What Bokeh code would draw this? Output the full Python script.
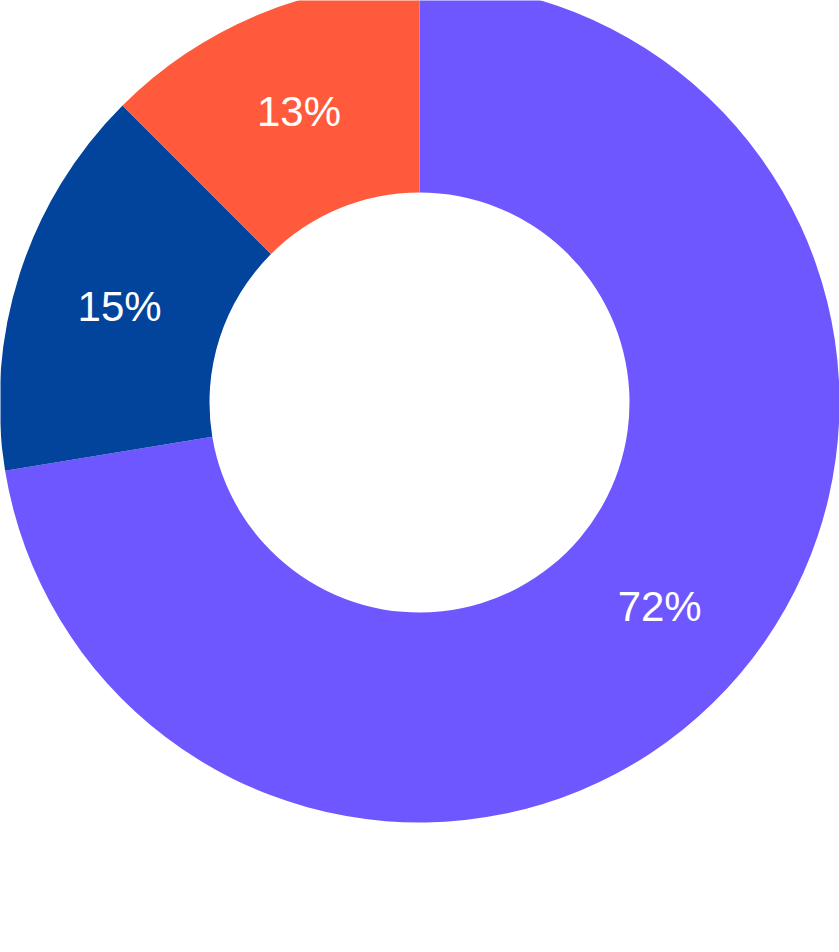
import math
from bokeh.plotting import figure
from bokeh.models import Range1d, ColumnDataSource
from bokeh.core.properties import value
from bokeh.embed import file_html
from bokeh.resources import INLINE

categories = ["A", "B", "C"]
shares = [72.4, 15.1, 12.5]
labels = ["72%", "15%", "13%"]
colors = ["#6E57FF", "#02449C", "#FF5A3C"]

W, H = 839, 952
p = figure(width=W, height=H, output_backend="svg", toolbar_location=None,
           x_range=Range1d(0, W), y_range=Range1d(-H, 0),
           min_border=0, min_border_left=0, min_border_right=0,
           min_border_top=0, min_border_bottom=0)
p.axis.visible = False
p.grid.visible = False
p.outline_line_color = None
p.background_fill_color = "white"
p.border_fill_color = "white"

cx, cy = 419, -402
r_out, r_in, r_lab = 420, 210, 315
total = sum(shares)
starts, ends, lx, ly = [], [], [], []
cum = 0.0
for s in shares:
    a0 = math.pi / 2 - 2 * math.pi * (cum + s) / total
    a1 = math.pi / 2 - 2 * math.pi * cum / total
    starts.append(a0)
    ends.append(a1)
    mid = (a0 + a1) / 2
    lx.append(cx + r_lab * math.cos(mid))
    ly.append(cy + r_lab * math.sin(mid))
    cum += s

src = ColumnDataSource(dict(cat=categories, start=starts, end=ends, color=colors,
                            lx=lx, ly=ly, label=labels))
p.annular_wedge(x=cx, y=cy, inner_radius=r_in, outer_radius=r_out,
                start_angle="start", end_angle="end", color="color",
                line_color=None, source=src)
p.text(x="lx", y="ly", text="label", source=src, text_color="white",
       text_font=value("Liberation Sans"), text_font_size="42px",
       text_align="center", text_baseline="middle")

open("out.html", "w").write(file_html(p, INLINE))
